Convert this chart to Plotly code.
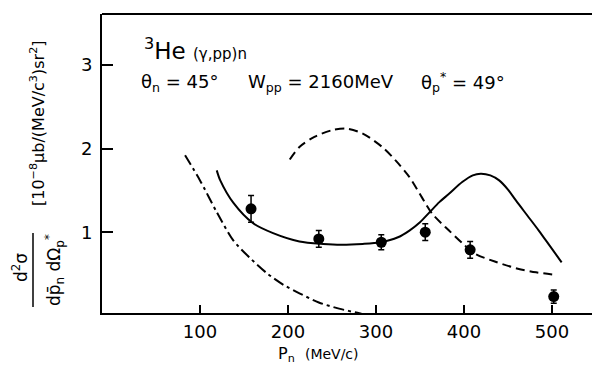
import plotly.graph_objects as go

# Data points
pn_data = [158, 235, 306, 356, 407, 502]
xs_data = [1.28, 0.92, 0.88, 1.00, 0.79, 0.23]
xs_err = [0.16, 0.10, 0.09, 0.10, 0.10, 0.08]

# Solid curve
solid_x = [119, 123, 138, 160, 183, 213, 240, 260, 285, 305, 325, 338, 350, 361, 372, 383, 398, 410, 419, 430, 440, 450, 459, 472, 485, 498, 511]
solid_y = [1.74, 1.62, 1.35, 1.11, 0.99, 0.89, 0.86, 0.85, 0.86, 0.88, 0.94, 1.02, 1.12, 1.24, 1.36, 1.46, 1.60, 1.68, 1.70, 1.68, 1.62, 1.51, 1.38, 1.20, 1.02, 0.83, 0.64]

# Dashed curve
dash_x = [202, 213, 230, 250, 266, 285, 307, 323, 338, 352, 364, 383, 398, 413, 435, 459, 482, 505]
dash_y = [1.87, 2.02, 2.14, 2.22, 2.24, 2.18, 2.02, 1.85, 1.66, 1.42, 1.22, 1.02, 0.87, 0.74, 0.65, 0.57, 0.52, 0.49]

# Dash-dot curve
dd_x = [83, 100, 119, 138, 157, 176, 195, 213, 235, 258, 281, 292]
dd_y = [1.92, 1.62, 1.24, 0.90, 0.69, 0.51, 0.37, 0.27, 0.16, 0.086, 0.03, 0.0]

x_ticks = [100, 200, 300, 400, 500]
y_ticks = [1, 2, 3]

FONT = "DejaVu Sans"

fig = go.Figure()
fig.add_trace(go.Scatter(x=solid_x, y=solid_y, mode="lines", line=dict(color="black", width=2, shape="spline", smoothing=0.8), showlegend=False))
fig.add_trace(go.Scatter(x=dash_x, y=dash_y, mode="lines", line=dict(color="black", width=2, dash="9px,5px", shape="spline", smoothing=0.8), showlegend=False))
fig.add_trace(go.Scatter(x=dd_x, y=dd_y, mode="lines", line=dict(color="black", width=2, dash="11px,4px,3px,4px", shape="spline", smoothing=0.8), showlegend=False))
fig.add_trace(go.Scatter(x=pn_data, y=xs_data, mode="markers",
                         marker=dict(color="black", size=11),
                         error_y=dict(type="data", array=xs_err, color="black", thickness=1.5, width=3),
                         showlegend=False))

fig.update_layout(
    width=592, height=368,
    margin=dict(l=102, r=0, t=14, b=55),
    paper_bgcolor="white", plot_bgcolor="white",
    font=dict(family=FONT, color="black"),
    xaxis=dict(range=[-11.4, 545.5], tickvals=x_ticks, ticktext=[str(v) for v in x_ticks],
               ticks="inside", ticklen=8, tickwidth=1.5, tickcolor="black",
               showline=True, linecolor="black", linewidth=2, showgrid=False, zeroline=False,
               tickfont=dict(size=18, family=FONT), ticklabelstandoff=1),
    yaxis=dict(range=[0.034, 3.61], tickvals=y_ticks, ticktext=[str(v) for v in y_ticks],
               ticks="inside", ticklen=11, tickwidth=1.5, tickcolor="black",
               showline=True, linecolor="black", linewidth=2, showgrid=False, zeroline=False,
               tickfont=dict(size=18, family=FONT), ticklabelstandoff=4),
)

# top frame line
fig.add_shape(type="line", xref="paper", yref="paper", x0=0, x1=1, y0=1, y1=1, line=dict(color="black", width=2))

anns = [
    dict(text="<sup>3</sup>He <span style='font-size:15px'>(γ,pp)n</span>", x=142, y=66, xanchor="left", yanchor="bottom", size=23, angle=0),
    dict(text="θ<sub>n</sub> = 45°", x=139, y=97, xanchor="left", yanchor="bottom", size=18, angle=0),
    dict(text="W<sub>pp</sub> = 2160MeV", x=246, y=97, xanchor="left", yanchor="bottom", size=18, angle=0),
    dict(text="θ<sub>p</sub><sup>*</sup> = 49°", x=419, y=97, xanchor="left", yanchor="bottom", size=18, angle=0),
    dict(text="P<sub>n</sub>  <span style='font-size:14px'>(MeV/c)</span>", x=318, y=354, xanchor="center", yanchor="middle", size=16, angle=0),
    dict(text="[10<sup>−8</sup>μb/(MeV/c<sup>3</sup>)sr<sup>2</sup>]", x=37, y=123, xanchor="center", yanchor="middle", size=16, angle=-90),
    dict(text="d<sup>2</sup>σ", x=20, y=268, xanchor="center", yanchor="middle", size=17, angle=-90),
    dict(text="dp̄<sub>n</sub> dΩ<sub>p</sub><sup>*</sup>", x=54, y=270, xanchor="center", yanchor="middle", size=17, angle=-90),
]
for a in anns:
    fig.add_annotation(text=a["text"], xref="paper", yref="paper",
                       x=(a["x"] - 102) / 490.0, y=(313 - a["y"]) / 299.0,
                       xanchor=a["xanchor"], yanchor=a["yanchor"], textangle=a["angle"],
                       showarrow=False, font=dict(size=a["size"], family=FONT, color="black"))

# fraction line
fig.add_shape(type="line", xref="paper", yref="paper",
              x0=(33 - 102) / 490.0, x1=(33 - 102) / 490.0,
              y0=(313 - 233) / 299.0, y1=(313 - 307) / 299.0,
              line=dict(color="black", width=1.5))

fig.write_html("out.html")
